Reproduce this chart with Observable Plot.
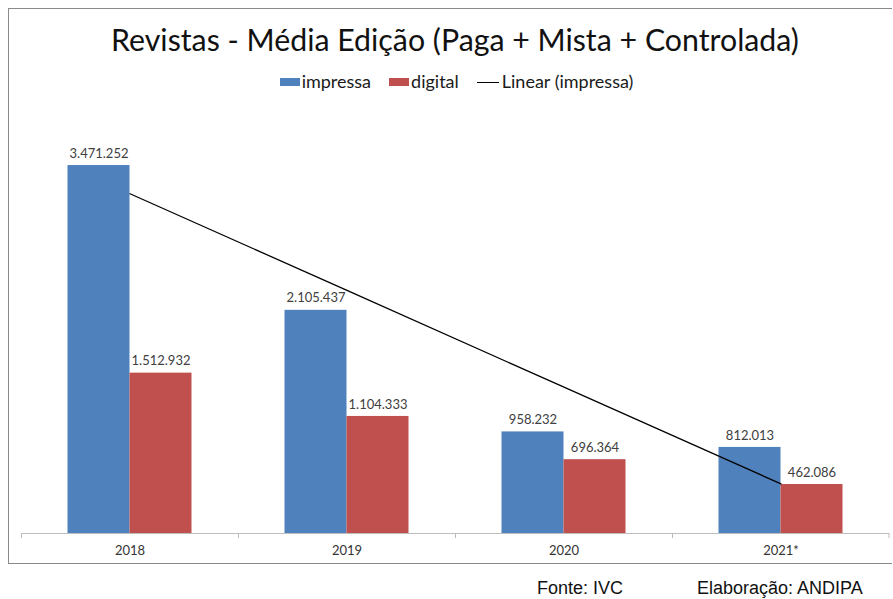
<!DOCTYPE html>
<html>
<head>
<meta charset="utf-8">
<script src="https://cdn.jsdelivr.net/npm/d3@7"></script>
<script src="https://cdn.jsdelivr.net/npm/@observablehq/plot@0.6"></script>
<style>
  html, body { margin: 0; padding: 0; background: #fff; }
  body { width: 893px; height: 599px; position: relative; overflow: hidden; font-family: Lato, "Open Sans", sans-serif; }
  #frame { position: absolute; left: 8px; top: 8px; width: 884px; height: 556px; border: 1px solid #8a8a8a; border-right: none; box-sizing: border-box; }
  #title { position: absolute; left: 0; width: 910px; top: 21px; text-align: center; font-size: 30.3px; color: #111; white-space: nowrap; }
  #legend { position: absolute; left: 0; width: 913px; top: 70px; height: 22px; display: flex; justify-content: center; align-items: center; font-size: 18px; line-height: 22px; color: #1a1a1a; white-space: nowrap; }
  .item { display: flex; align-items: center; margin: 0 9px; }
  .sw { display: inline-block; width: 20px; height: 8px; margin-right: 2px; margin-top: 2px; }
  .ln { display: inline-block; width: 22px; height: 0; border-top: 1.5px solid #000; margin-right: 3px; margin-top: 2px; }
  #chart { position: absolute; left: 0; top: 100px; }
  .foot { position: absolute; top: 578px; font-family: "Liberation Sans", Arial, sans-serif; font-size: 18px; color: #111; }
</style>
</head>
<body>
<div id="frame"></div>
<div id="title"></div>
<div id="legend"></div>
<div id="chart"></div>
<div class="foot" id="f1" style="left:537px"></div>
<div class="foot" id="f2" style="left:697px"></div>
<script>
const titleText = "Revistas - Média Edição (Paga + Mista + Controlada)";
const years = ["2018", "2019", "2020", "2021*"];
const impressa = [3471252, 2105437, 958232, 812013];
const digital = [1512932, 1104333, 696364, 462086];
const seriesNames = ["impressa", "digital"];
const trendName = "Linear (impressa)";
const colors = ["#4F81BD", "#C0504D"];
const footLeft = "Fonte: IVC";
const footRight = "Elaboração: ANDIPA";

document.getElementById("title").textContent = titleText;
document.getElementById("f1").textContent = footLeft;
document.getElementById("f2").textContent = footRight;

const legend = document.getElementById("legend");
seriesNames.forEach((s, i) => {
  const it = document.createElement("span"); it.className = "item";
  const sw = document.createElement("span"); sw.className = "sw"; sw.style.background = colors[i];
  const tx = document.createElement("span"); tx.textContent = s;
  it.appendChild(sw); it.appendChild(tx);
  legend.appendChild(it);
});
{
  const it = document.createElement("span"); it.className = "item";
  const ln = document.createElement("span"); ln.className = "ln";
  const tx = document.createElement("span"); tx.textContent = trendName;
  it.appendChild(ln); it.appendChild(tx);
  legend.appendChild(it);
}

// linear trendline (least squares on category index), as Excel does
const xs = impressa.map((_, i) => i + 1);
const mx = d3.mean(xs), my = d3.mean(impressa);
const slope = d3.sum(xs, (x, i) => (x - mx) * (impressa[i] - my)) / d3.sum(xs, x => (x - mx) ** 2);
const intercept = my - slope * mx;
const trend = xs.map((x, i) => ({year: years[i], value: intercept + slope * x}));

const rowsI = years.map((y, i) => ({year: y, value: impressa[i]}));
const rowsD = years.map((y, i) => ({year: y, value: digital[i]}));

const fmt = d3.formatLocale({decimal: ",", thousands: ".", grouping: [3], currency: ["", ""]}).format(",d");

const W = 893, H = 462, ML = 21, MR = 4;
const bw = (W - ML - MR) / years.length;
const barW = bw * 62 / 217;
const outer = (bw - 2 * barW) / 2;

const chart = Plot.plot({
  width: W, height: H,
  marginLeft: ML, marginRight: MR, marginTop: 9, marginBottom: 29,
  style: {fontFamily: "Lato, sans-serif", background: "transparent", color: "#333"},
  x: {domain: years, padding: 0, label: null, tickSize: 0, tickPadding: 12},
  y: {domain: [0, 4000000], axis: null},
  marks: [
    Plot.barY(rowsI, {x: "year", y: "value", fill: colors[0], insetLeft: outer, insetRight: outer + barW}),
    Plot.barY(rowsD, {x: "year", y: "value", fill: colors[1], insetLeft: outer + barW, insetRight: outer}),
    Plot.ruleY([0], {stroke: "#BDBDBD"}),
    Plot.ruleX(years, {x: d => d, y1: 0, y2: 0, dx: -bw / 2, insetTop: 5, stroke: "#BDBDBD"}),
    Plot.ruleX(years.slice(-1), {x: d => d, y1: 0, y2: 0, dx: bw / 2 - 0.5, insetTop: 5, stroke: "#BDBDBD"}),
    Plot.line(trend, {x: "year", y: "value", stroke: "#000", strokeWidth: 1.3}),
    Plot.text(rowsI, {x: "year", y: "value", text: d => fmt(d.value), dx: -barW / 2, dy: -12, fontSize: 13, fill: "#404040"}),
    Plot.text(rowsD, {x: "year", y: "value", text: d => fmt(d.value), dx: barW / 2, dy: -12, fontSize: 13, fill: "#404040"})
  ]
});
chart.style.fontSize = "13px";
document.getElementById("chart").appendChild(chart);
</script>
</body>
</html>
